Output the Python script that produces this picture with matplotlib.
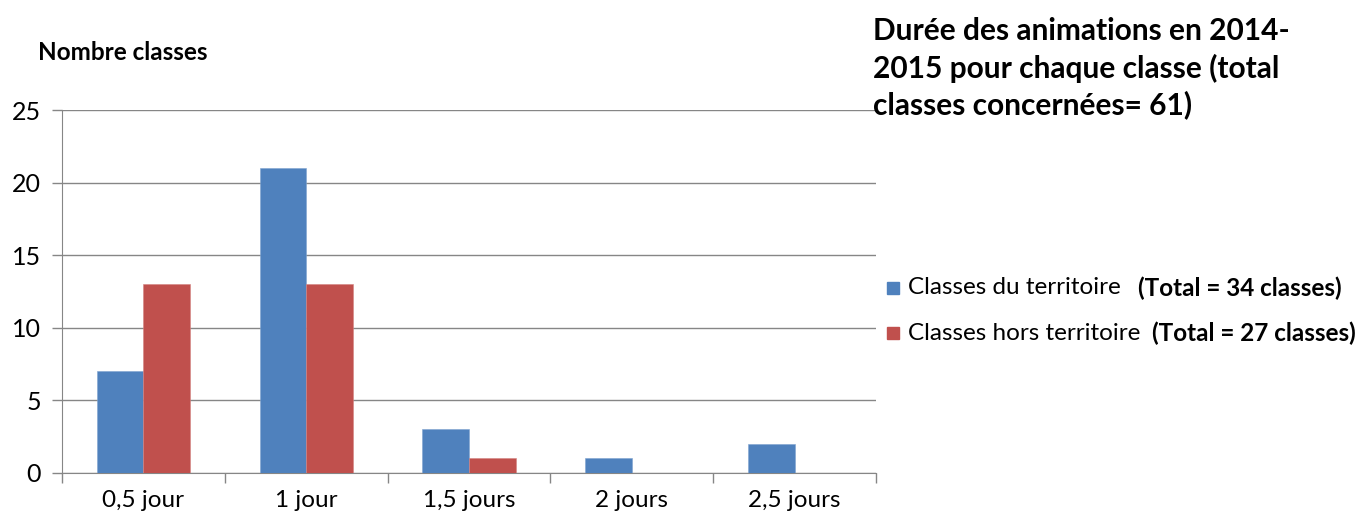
import matplotlib.pyplot as plt
from matplotlib.patches import Rectangle
import numpy as np

# données
categories = ["0,5 jour", "1 jour", "1,5 jours", "2 jours", "2,5 jours"]
territoire = [7, 21, 3, 1, 2]
hors_territoire = [13, 13, 1, 0, 0]
yticks = [0, 5, 10, 15, 20, 25]
series_labels = ["Classes du territoire", "Classes hors territoire"]
totaux = ["(Total = 34 classes)", "(Total = 27 classes)"]
colors = ["#4F81BD", "#C0504D"]

plt.rcParams['font.family'] = ['Lato', 'DejaVu Sans']

W, H = 1362, 520
fig = plt.figure(figsize=(W / 100, H / 100), dpi=100)
ax = fig.add_axes([62 / W, 47 / H, 814 / W, 363 / H])

x = np.arange(len(categories))
w = 0.286
ax.bar(x - w / 2, territoire, w, color=colors[0], edgecolor="#7fa3cf", linewidth=0.4,
       label=series_labels[0], zorder=3)
ax.bar(x + w / 2, hors_territoire, w, color=colors[1], edgecolor="#d48482", linewidth=0.4,
       label=series_labels[1], zorder=3)

ax.set_xlim(-0.5, len(categories) - 0.5)
ax.set_ylim(0, 25)
ax.set_yticks(yticks)
ax.yaxis.grid(True, color="#868686", linewidth=1)
ax.set_axisbelow(True)

# ticks entre les catégories
ax.set_xticks(np.arange(len(categories) + 1) - 0.5)
ax.set_xticklabels([])
ax.set_xticks(x, minor=True)
ax.set_xticklabels(categories, minor=True, fontsize=17.5)
ax.tick_params(axis="x", which="minor", length=0, pad=12)
ax.tick_params(axis="x", which="major", length=7, color="#868686", width=1)
ax.tick_params(axis="y", length=7, color="#868686", width=1, labelsize=18, pad=8)

for s in ["top", "right"]:
    ax.spines[s].set_visible(False)
for s in ["left", "bottom"]:
    ax.spines[s].set_color("#868686")

fig.text(38 / W, 1 - 53 / H, "Nombre classes", fontsize=17.5, fontweight="bold",
         va="center", ha="left")

titre = ["Durée des animations en 2014-", "2015 pour chaque classe (total",
         "classes concernées= 61)"]
for i, ligne in enumerate(titre):
    fig.text(873 / W, 1 - (31 + 37 * i) / H, ligne, fontsize=21.5, fontweight="bold",
             va="center", ha="left")

# légende
rows_y = [288, 333]
bold_x = [1138, 1152]
for i in range(2):
    fig.add_artist(Rectangle((887 / W, 1 - (rows_y[i] + 6) / H), 12 / W, 12 / H,
                             transform=fig.transFigure, color=colors[i]))
    fig.text(908 / W, 1 - rows_y[i] / H, series_labels[i], fontsize=17.5,
             va="center", ha="left")
    fig.text(bold_x[i] / W, 1 - rows_y[i] / H, totaux[i], fontsize=17.5,
             fontweight="bold", va="center", ha="left")

fig.savefig("out.png", dpi=100)
